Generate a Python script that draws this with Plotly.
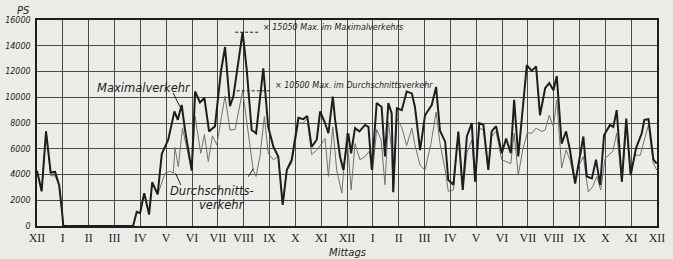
import plotly.graph_objects as go

# Stunden ab Mitternacht (XII) bis Mitternacht
hours_max = [0.00, 0.18, 0.35, 0.53, 0.70, 0.86, 0.97, 1.02, 3.72, 3.86, 3.99, 4.15, 4.34, 4.46, 4.67, 4.83,
             5.08, 5.32, 5.45, 5.60, 5.73, 5.99, 6.12, 6.31, 6.48, 6.66, 6.89, 7.12, 7.28, 7.47, 7.60, 7.96,
             8.12, 8.31, 8.48, 8.76, 8.95, 9.15, 9.34, 9.51, 9.67, 9.86, 10.12, 10.31, 10.46, 10.63, 10.83,
             10.96, 11.15, 11.28, 11.45, 11.54, 11.73, 11.86, 12.05, 12.16, 12.31, 12.48, 12.70, 12.83, 12.96,
             13.15, 13.34, 13.47, 13.60, 13.73, 13.79, 13.93, 14.12, 14.31, 14.51, 14.63, 14.83, 15.02, 15.28,
             15.45, 15.60, 15.80, 15.92, 16.12, 16.31, 16.48, 16.64, 16.83, 16.96, 17.12, 17.28, 17.47, 17.60,
             17.77, 17.99, 18.16, 18.34, 18.47, 18.63, 18.96, 19.15, 19.32, 19.47, 19.67, 19.83, 19.99, 20.12,
             20.31, 20.48, 20.63, 20.83, 20.96, 21.15, 21.28, 21.48, 21.64, 21.80, 21.95, 22.18, 22.31, 22.44,
             22.64, 22.81, 22.98, 23.19, 23.41, 23.51, 23.67, 23.86, 23.99]
ps_max = [4300, 2700, 7350, 4150, 4200, 3150, 1100, 0, 0, 1100, 1000, 2550, 900, 3400, 2450, 5600,
          6700, 8900, 8250, 9400, 7450, 4300, 10450, 9600, 9950, 7350, 7750, 12000, 13900, 9300, 10050, 15050,
          12100, 7450, 7200, 12250, 7700, 6150, 5400, 1650, 4350, 5150, 8400, 8300, 8550, 6150, 6700,
          8900, 8000, 7200, 10050, 8250, 5400, 4350, 7200, 5650, 7600, 7350, 7850, 7700, 4350,
          9550, 9250, 5400, 9550, 8750, 2650, 9150, 9000, 10450, 10300, 9250, 5900, 8600, 9400,
          10800, 7400, 6550, 3570, 3200, 7330, 2800, 6950, 8000, 3450, 8000, 7850, 4350, 7350,
          7750, 5650, 6800, 5650, 9800, 5400, 12500, 12050, 12400, 8600, 10700, 11100, 10550, 11650,
          6400, 7350, 5900, 3300, 4850, 6950, 3850, 3700, 5150, 3200, 7050, 7850, 7700, 9000,
          3450, 8350, 3950, 6050, 7200, 8250, 8300, 5150, 4850]

hours_avg = [0.00, 0.18, 0.35, 0.53, 0.70, 0.86, 0.97, 1.02, 3.72, 3.86, 3.99, 4.15, 4.34, 4.46, 4.67, 4.96,
             5.15, 5.28, 5.34, 5.47, 5.63, 5.73, 5.99, 6.12, 6.34, 6.48, 6.63, 6.79, 6.96, 7.15, 7.28, 7.47,
             7.67, 7.96, 8.18, 8.37, 8.48, 8.63, 8.80, 8.95, 9.15, 9.34, 9.51, 9.67, 9.86, 10.12, 10.31,
             10.46, 10.63, 10.83, 11.02, 11.15, 11.28, 11.45, 11.60, 11.80, 11.99, 12.16, 12.31, 12.50, 12.70,
             12.86, 12.99, 13.15, 13.32, 13.47, 13.60, 13.73, 13.79, 13.93, 14.12, 14.31, 14.51, 14.63, 14.83,
             15.02, 15.25, 15.45, 15.60, 15.80, 15.92, 16.12, 16.31, 16.48, 16.64, 16.83, 16.96, 17.12, 17.28,
             17.47, 17.60, 17.77, 17.99, 18.18, 18.34, 18.47, 18.63, 18.80, 18.98, 19.15, 19.32, 19.54, 19.67,
             19.83, 19.99, 20.12, 20.31, 20.48, 20.63, 20.83, 20.96, 21.15, 21.34, 21.51, 21.67, 21.82, 21.99,
             22.29, 22.44, 22.64, 22.81, 22.98, 23.15, 23.35, 23.67, 23.86, 23.99]
ps_avg = [4300, 2700, 7350, 3900, 3900, 3150, 1100, 0, 0, 1100, 1000, 2550, 900, 3400, 2450, 4100,
          4250, 4100, 6100, 4600, 7600, 6700, 4300, 8500, 5650, 7100, 5000, 7000, 6300, 8600, 10100, 7450,
          7500, 10500, 7200, 4350, 3850, 5400, 8500, 5650, 5150, 5400, 1650, 4350, 4900, 8000, 8000,
          8350, 5550, 5900, 6400, 6800, 3850, 7700, 4350, 2550, 7200, 2800, 6400, 5150, 5400,
          5800, 4250, 7500, 6700, 3200, 8100, 5900, 2600, 8350, 7650, 6250, 7600, 6300, 4700,
          4350, 6400, 8850, 6400, 4350, 2700, 2800, 7300, 2800, 5650, 6700, 3450, 7600, 7450,
          4350, 6950, 7350, 5150, 5000, 4850, 7200, 3950, 5900, 7250, 7200, 7600, 7350, 7450,
          8600, 7700, 9800, 4500, 5900, 5150, 3450, 4600, 5400, 2650, 3050, 3850, 2800, 5250,
          5800, 7200, 3450, 7600, 3950, 5500, 5500, 7850, 4850, 4350]

hour_ticks = list(range(25))
hour_labels = ["XII", "I", "II", "III", "IV", "V", "VI", "VII", "VIII", "IX", "X", "XI",
               "XII", "I", "II", "III", "IV", "V", "VI", "VII", "VIII", "IX", "X", "XI", "XII"]
ps_ticks = [0, 2000, 4000, 6000, 8000, 10000, 12000, 14000, 16000]
ps_labels = [str(v) for v in ps_ticks]

paper = "#ecece7"
ink = "#1e1e1e"

fig = go.Figure()
fig.add_trace(go.Scatter(x=hours_avg, y=ps_avg, mode="lines",
                         line=dict(color="#707070", width=1), name="Durchschnittsverkehr"))
fig.add_trace(go.Scatter(x=hours_max, y=ps_max, mode="lines",
                         line=dict(color=ink, width=2), name="Maximalverkehr"))

max_max = max(ps_max)
max_avg = max(ps_avg)

shapes = [
    dict(type="line", xref="x", yref="y", x0=7.67, x1=8.63, y0=max_max, y1=max_max,
         line=dict(color=ink, width=1, dash="3px,2px")),
    dict(type="line", xref="x", yref="y", x0=7.73, x1=9.09, y0=max_avg, y1=max_avg,
         line=dict(color=ink, width=1, dash="3px,2px")),
    dict(type="line", xref="x", yref="y", x0=5.27, x1=5.54, y0=10330, y1=9240,
         line=dict(color=ink, width=1)),
    dict(type="line", xref="x", yref="y", x0=5.57, x1=5.36, y0=3180, y1=4100,
         line=dict(color=ink, width=1)),
    dict(type="line", xref="x", yref="y", x0=8.18, x1=8.37, y0=3830, y1=4450,
         line=dict(color=ink, width=1)),
]

ann_font = dict(family="DejaVu Sans", color=ink, style="italic")
annotations = [
    dict(text="PS", xref="paper", yref="paper", x=-0.021, y=1.045, showarrow=False,
         font=dict(ann_font, size=10), xanchor="center", yanchor="middle"),
    dict(text="Mittags", xref="x", yref="paper", x=12, y=-0.13, showarrow=False,
         font=dict(ann_font, size=10), xanchor="center", yanchor="middle"),
    dict(text="Maximalverkehr", xref="x", yref="y", x=4.15, y=10750, showarrow=False,
         font=dict(ann_font, size=11.5), xanchor="center", yanchor="middle"),
    dict(text="Durchschnitts-", xref="x", yref="y", x=6.78, y=2700, showarrow=False,
         font=dict(ann_font, size=11.5), xanchor="center", yanchor="middle"),
    dict(text="verkehr", xref="x", yref="y", x=7.16, y=1650, showarrow=False,
         font=dict(ann_font, size=11.5), xanchor="center", yanchor="middle"),
    dict(text=f"× {max_max} Max. im Maximalverkehrs", xref="x", yref="y", x=8.66, y=15450,
         showarrow=False, font=dict(ann_font, size=8), xanchor="left", yanchor="middle"),
    dict(text=f"× {max_avg} Max. im Durchschnittsverkehr", xref="x", yref="y", x=9.12, y=10950,
         showarrow=False, font=dict(ann_font, size=8), xanchor="left", yanchor="middle"),
]

fig.update_layout(
    width=673, height=259,
    margin=dict(l=37, r=16, t=20, b=33, autoexpand=False),
    paper_bgcolor=paper, plot_bgcolor=paper,
    showlegend=False,
    shapes=shapes, annotations=annotations,
    xaxis=dict(range=[0, 24], tickmode="array", tickvals=hour_ticks, ticktext=hour_labels,
               automargin=False,
               showgrid=True, gridcolor="#4a4a4a", gridwidth=1, zeroline=False,
               showline=True, linecolor=ink, linewidth=1.5, mirror=True, ticks="",
               tickfont=dict(family="Liberation Serif", size=12, color=ink), ticklabelstandoff=0),
    yaxis=dict(range=[0, 16000], tickmode="array", tickvals=ps_ticks, ticktext=ps_labels,
               automargin=False,
               showgrid=True, gridcolor="#4a4a4a", gridwidth=1, zeroline=False,
               showline=True, linecolor=ink, linewidth=1.5, mirror=True, ticks="",
               tickfont=dict(family="DejaVu Sans", size=8, color=ink, style="italic"),
               ticklabelstandoff=3),
)

fig.write_html("out.html", config={"displayModeBar": False},
               post_script="document.body.style.margin='0';document.body.style.background='%s';" % paper)
